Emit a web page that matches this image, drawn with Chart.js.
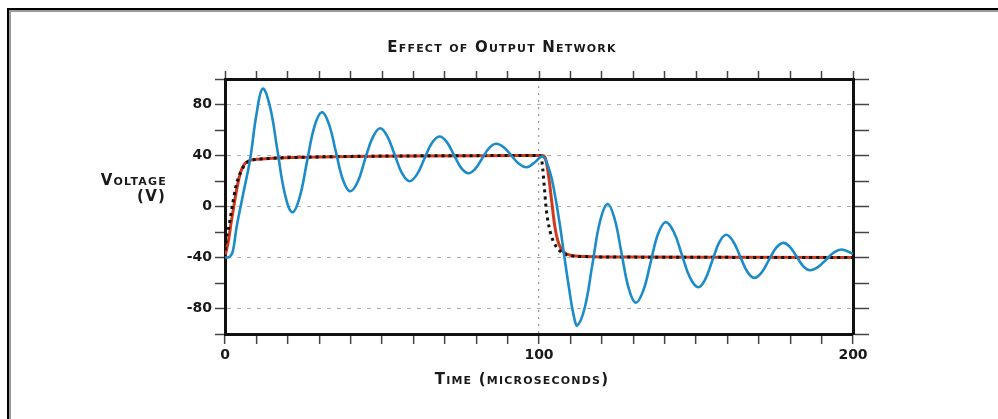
<!DOCTYPE html>
<html>
<head>
<meta charset="utf-8">
<script src="https://cdn.jsdelivr.net/npm/chart.js@4.4.1/dist/chart.umd.min.js"></script>
<style>
  html, body { margin: 0; background: #fff; overflow: hidden; }
  #myChart { display: block; }
</style>
</head>
<body>
<canvas id="myChart" width="998" height="419"></canvas>
<script>
// 出力波形（青）
const timeBlue = [0, 1.5, 2.5, 3.7, 5.8, 8, 10, 12, 14.35, 16.7, 19.05, 21.4, 23.75, 26.1, 28.45, 30.8,
  33.05, 35.3, 37.55, 39.8, 42.2, 44.6, 47, 49.4, 51.7, 54.05, 56.4, 58.7, 61.1, 63.5, 65.9, 68.3,
  70.6, 72.9, 75.2, 77.5, 79.7, 81.9, 84.1, 86.3, 88.75, 91.2, 93.65, 96.1, 98.6, 101.2,
  103.5, 105, 106.5, 108, 109.5, 111, 112.2, 114.6, 117, 119.4, 121.8, 124.05, 126.3, 128.55, 130.8,
  133.2, 135.55, 137.9, 140.3, 142.9, 145.5, 148.1, 150.7, 152.9, 155.15, 157.4, 159.6, 161.8, 164.05,
  166.3, 168.5, 170.8, 173.15, 175.5, 177.8, 179.9, 182.05, 184.2, 186.3, 188.8, 191.35, 193.9, 196.4, 200];
const voltBlue = [-40, -39.5, -35, -16, 10, 37, 72, 92.5, 78, 44, 10, -4.5, 7, 35, 62.5, 74,
  65, 43, 21, 12, 19, 37, 54, 61.4, 55, 40.6, 26, 19.8, 25, 37.4, 49.8, 54.9,
  50.7, 40.5, 30.3, 26.1, 29.5, 37.7, 45.8, 49.2, 46.5, 40, 33.5, 30.8, 34.5, 39.2,
  27, 10, -12, -38, -63, -85, -93.3, -79, -45.6, -12, 2, -9.4, -36.8, -64, -75.5,
  -66, -43.9, -21.6, -12.3, -19.8, -37.8, -55.8, -63.3, -57.3, -42.8, -28.2, -22.2, -27.2, -39.1,
  -51, -56, -52, -42.3, -32.5, -28.5, -31.6, -39.3, -46.9, -50, -47.6, -41.9, -36.1, -33.7, -37];

// 出力ネットワーク付き（赤）
const timeRed = [0, 1, 2, 3, 4, 5, 6, 7, 8, 10, 15, 25, 40, 60, 80, 101, 102, 103, 104, 105, 106, 107, 108, 110, 115, 130, 160, 200];
const voltRed = [-39, -28, -12, 3, 17, 27, 32.5, 35, 36.2, 37, 37.8, 38.6, 39.3, 39.7, 39.9, 40, 38, 25, 5, -15, -27, -33, -36, -38.2, -39.2, -39.7, -39.9, -40];

// 理想波形（黒の点線）
const timeIdeal = [0, 0.2, 1.3, 2.3, 3.4, 4.8, 6.6, 8, 10, 15, 25, 40, 60, 80, 100.3, 101, 101.7, 102.3, 103.2, 104.5, 106, 107.5, 110, 115, 130, 160, 200];
const voltIdeal = [-40, -31, -15, 0, 15, 26, 33.5, 36, 37, 37.8, 38.6, 39.3, 39.7, 39.9, 40, 34, 15, -2, -16, -27, -33, -36.5, -38.5, -39.3, -39.7, -39.9, -40];

// 軸の目盛り
const xLabels = [0, 100, 200];
const yLabels = [-80, -40, 0, 40, 80];

const toPoints = (ts, vs) => ts.map((t, i) => ({ x: t, y: vs[i] }));

const tickFont = { family: '"DejaVu Sans"', size: 14, weight: 'bold' };

// ページの枠（左と上）
const frame = {
  id: 'frame',
  beforeDraw(chart) {
    const { ctx } = chart;
    ctx.save();
    ctx.fillStyle = '#9a9a9a';
    ctx.fillRect(9, 10, 2, chart.height);
    ctx.fillRect(9, 10, chart.width, 2);
    ctx.fillStyle = '#000';
    ctx.fillRect(7, 8, 2, chart.height);
    ctx.fillRect(7, 8, chart.width, 2);
    ctx.restore();
  }
};

// タイトルと軸タイトル（スモールキャップス、横書き）
const captions = {
  id: 'captions',
  afterDraw(chart) {
    const { ctx, chartArea } = chart;
    ctx.save();
    ctx.font = 'small-caps bold 15px "DejaVu Sans"';
    ctx.letterSpacing = '1.2px';
    ctx.fillStyle = '#1a1a1a';
    ctx.textBaseline = 'middle';
    ctx.textAlign = 'center';
    ctx.fillText('Effect of Output Network', chart.width / 2 + 3, 48);
    ctx.fillText('Time (microseconds)', chartArea.left + 297, 380);
    ctx.textAlign = 'right';
    ctx.fillText('Voltage', chartArea.left - 58, 181);
    ctx.fillText('(V)', chartArea.left - 59, 197);
    ctx.restore();
  }
};

const sideAxis = (pos, min, max, step, size, len) => ({
  type: 'linear', position: pos, min: min, max: max,
  ticks: { display: false, stepSize: step },
  grid: { drawOnChartArea: false, tickLength: len, tickColor: '#444', tickWidth: 1.5 },
  border: { color: '#111', width: 3 },
  afterFit: s => { if (pos === 'top') s.height = size; else s.width = size; }
});

new Chart(document.getElementById('myChart'), {
  type: 'line',
  data: {
    datasets: [
      {
        data: toPoints(timeBlue, voltBlue),
        borderColor: '#1b8bc9', borderWidth: 2.6,
        pointRadius: 0, tension: 0.4, order: 0
      },
      {
        data: toPoints(timeIdeal, voltIdeal),
        borderColor: '#111', borderWidth: 3, borderDash: [3, 4],
        pointRadius: 0, cubicInterpolationMode: 'monotone', order: 1
      },
      {
        data: toPoints(timeRed, voltRed),
        borderColor: '#d2381c', borderWidth: 3,
        pointRadius: 0, cubicInterpolationMode: 'monotone', order: 2
      }
    ]
  },
  options: {
    responsive: false,
    animation: false,
    layout: { padding: { top: 67 } },
    plugins: {
      legend: { display: false },
      tooltip: { enabled: false },
      title: { display: false }
    },
    scales: {
      x: {
        type: 'linear', position: 'bottom', min: 0, max: 200,
        ticks: {
          stepSize: 10, autoSkip: false, maxRotation: 0, padding: 3,
          color: '#1a1a1a', font: tickFont,
          callback: v => xLabels.includes(v) ? v : ''
        },
        grid: {
          color: c => c.tick && c.tick.value === 100 ? '#9a9a9a' : 'rgba(0,0,0,0)',
          lineWidth: 1.3, tickLength: 10, tickColor: '#444', tickWidth: 1.5
        },
        border: { color: '#111', width: 3, dash: [2, 5] },
        afterFit: s => { s.height = 85; }
      },
      y: {
        type: 'linear', position: 'left', min: -100, max: 100,
        ticks: {
          stepSize: 20, autoSkip: false, padding: 3,
          color: '#1a1a1a', font: tickFont,
          callback: v => yLabels.includes(v) ? v : ''
        },
        grid: {
          color: c => c.tick && yLabels.includes(c.tick.value) ? '#b0b0b0' : 'rgba(0,0,0,0)',
          lineWidth: 1, tickLength: 10, tickColor: '#444', tickWidth: 1.5
        },
        border: { color: '#111', width: 3, dash: [4, 6] },
        afterFit: s => { s.width = 225; }
      },
      x2: sideAxis('top', 0, 200, 10, 12, 8),
      y2: sideAxis('right', -100, 100, 20, 145, 16)
    }
  },
  plugins: [frame, captions]
});
</script>
</body>
</html>
